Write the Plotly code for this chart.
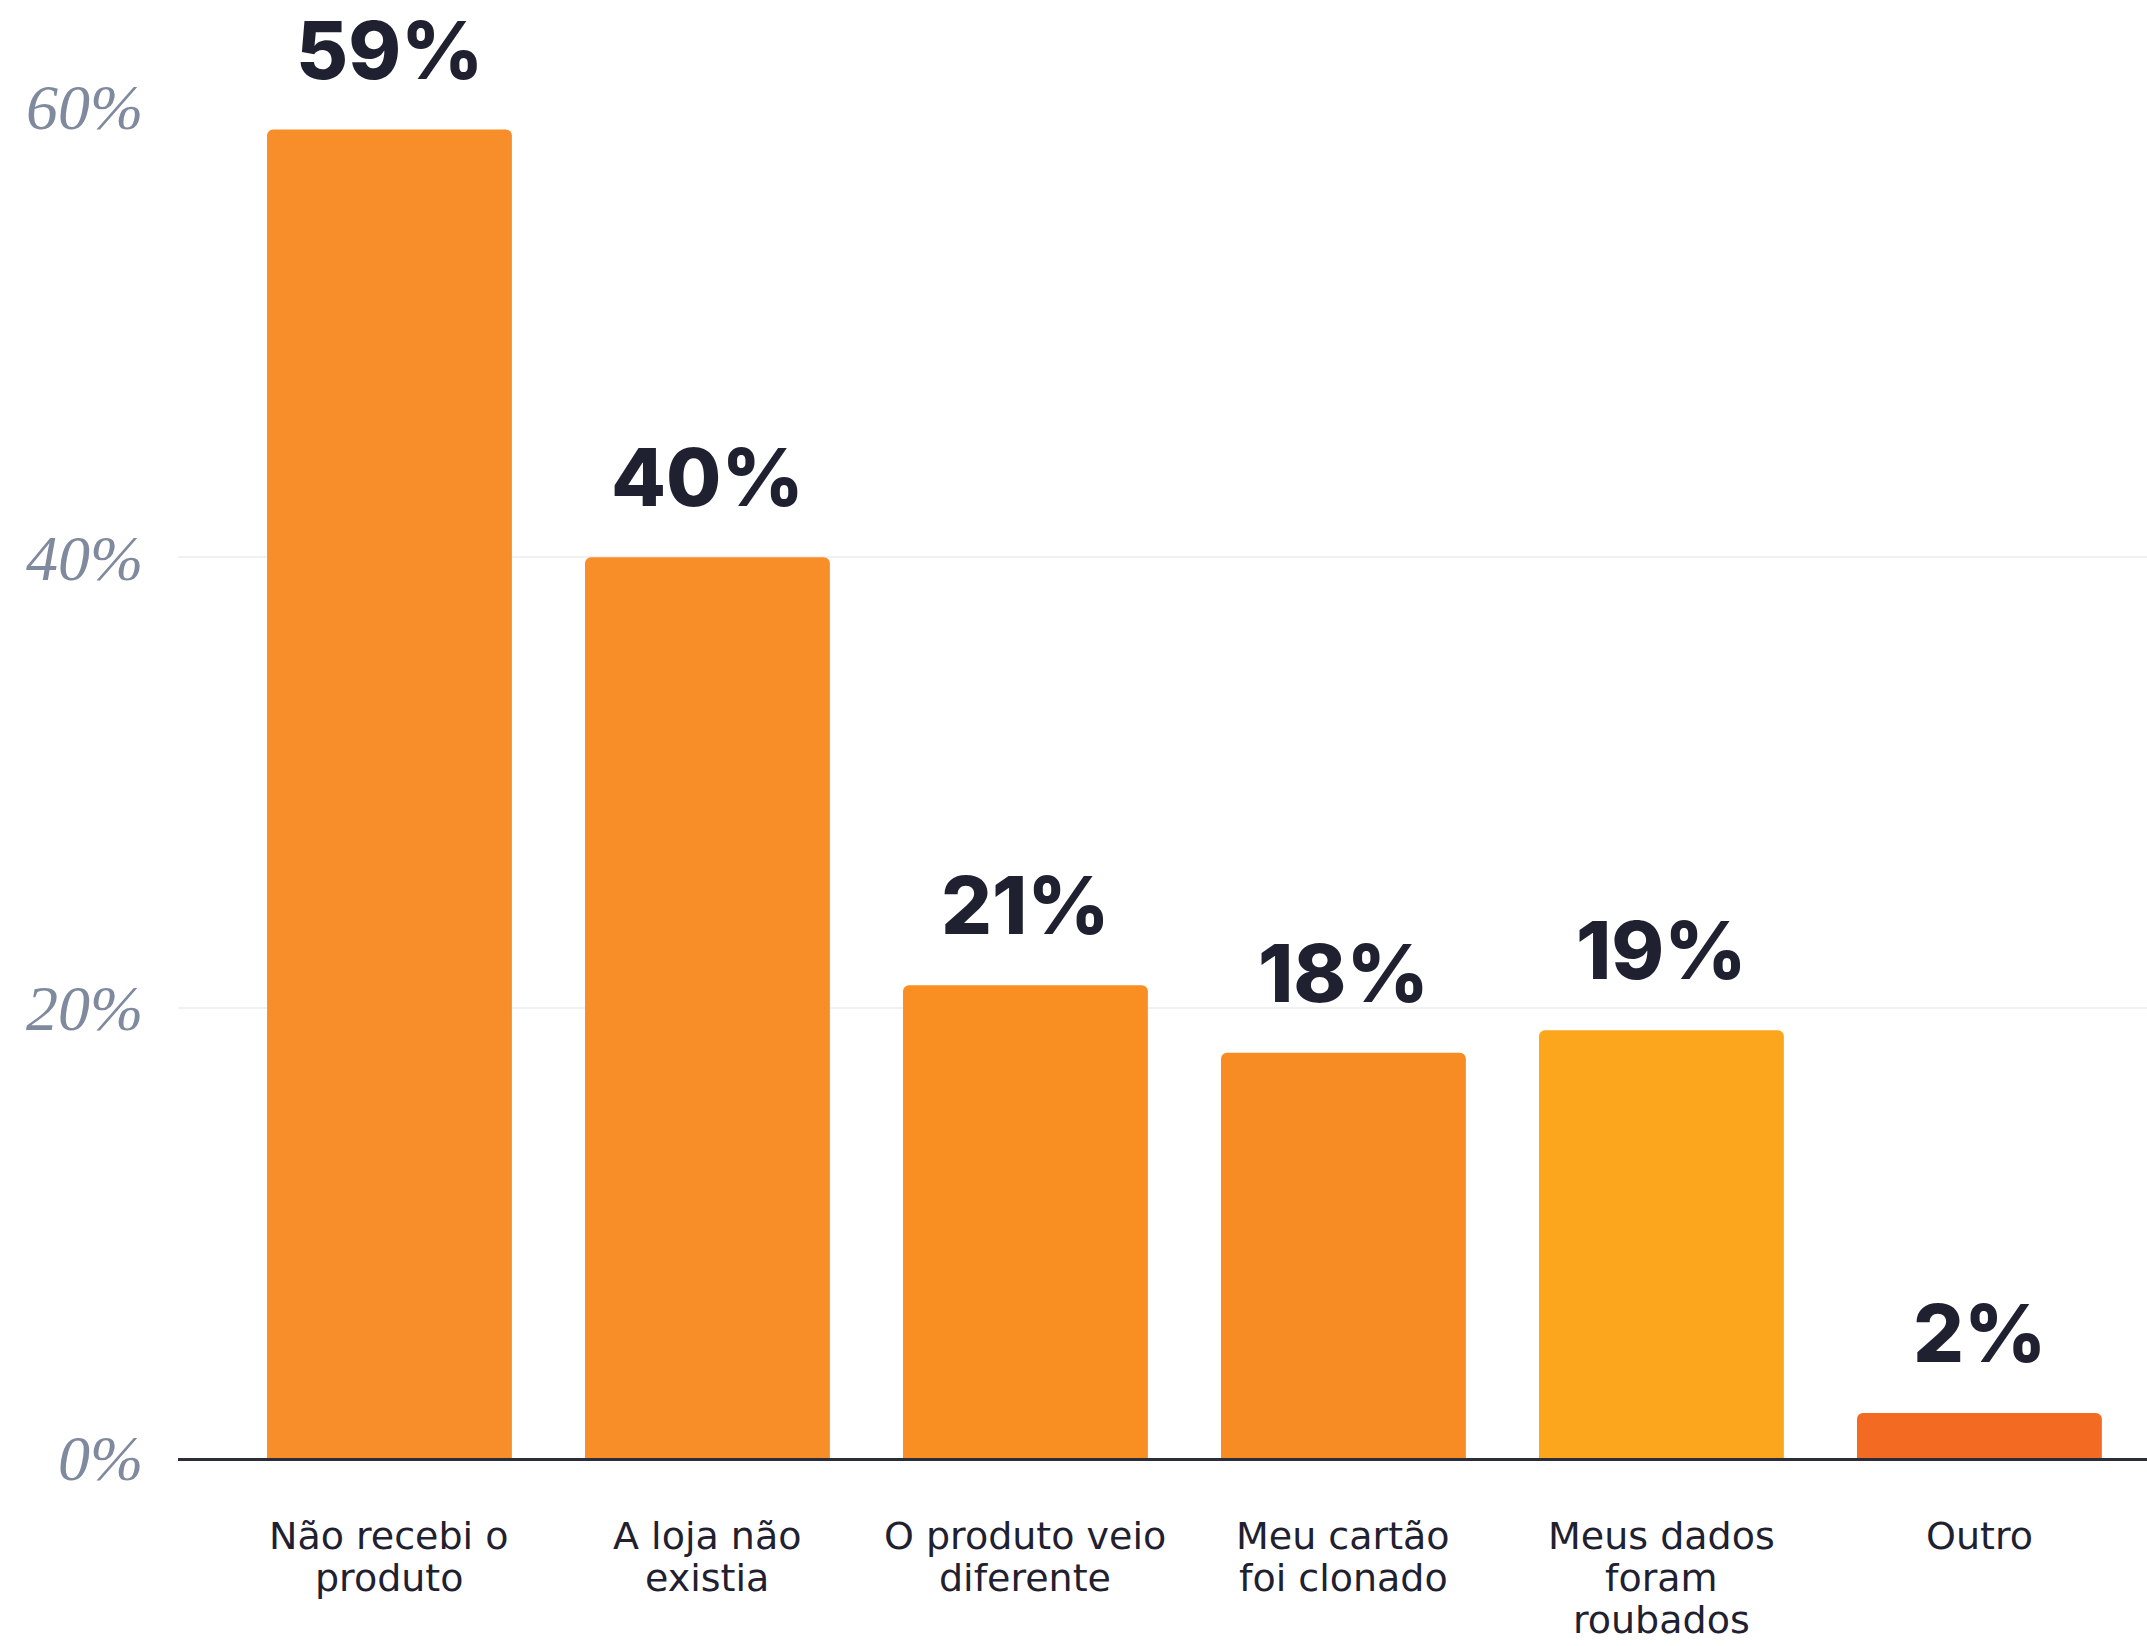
import plotly.graph_objects as go

# Survey: what happened in the online purchase scam
categories = [
    ["Não recebi o", "produto"],
    ["A loja não", "existia"],
    ["O produto veio", "diferente"],
    ["Meu cartão", "foi clonado"],
    ["Meus dados", "foram", "roubados"],
    ["Outro"],
]
values = [59, 40, 21, 18, 19, 2]
value_labels = ["59%", "40%", "21%", "18%", "19%", "2%"]
bar_colors = ["#F88E2A", "#F88E28", "#F98F22", "#F88C24", "#FBA61C", "#F36A22"]

y_ticks = [0, 20, 40, 60]
y_tick_labels = ["0%", "20%", "40%", "60%"]

positions = list(range(len(categories)))

fig = go.Figure()
fig.add_trace(go.Bar(
    x=positions,
    y=values,
    width=0.77,
    marker=dict(color=bar_colors, line=dict(width=0), cornerradius=6),
    hoverinfo="skip",
    cliponaxis=False,
))

# value labels above each bar
for xp, v, lab in zip(positions, values, value_labels):
    fig.add_annotation(
        x=xp, y=v, xref="x", yref="y",
        text=lab, showarrow=False,
        yanchor="bottom", yshift=30,
        font=dict(family="Inter", size=80, color="#1F2130", weight=800),
    )

# category names under the axis, one line at a time for tight leading
line_gap = 42
for xp, lines in zip(positions, categories):
    for i, line in enumerate(lines):
        fig.add_annotation(
            x=xp, y=0, xref="x", yref="paper",
            text=line, showarrow=False,
            yanchor="middle", yshift=-(78 + i * line_gap),
            font=dict(family="DejaVu Sans", size=38, color="#1F2130"),
        )

fig.update_layout(
    width=2147, height=1646,
    margin=dict(l=178, r=0, t=107, b=188),
    paper_bgcolor="white", plot_bgcolor="white",
    showlegend=False,
    xaxis=dict(
        range=[-0.665, 5.527],
        tickvals=positions, showticklabels=False, ticks="",
        showline=True, linecolor="#2B2D3B", linewidth=3,
        showgrid=False, zeroline=False, fixedrange=True, automargin=False,
    ),
    yaxis=dict(
        range=[0, 60],
        tickvals=y_ticks, ticktext=y_tick_labels,
        tickfont=dict(family="Liberation Serif", size=64, color="#808A9E", style="italic"),
        ticks="outside", ticklen=21, tickcolor="rgba(0,0,0,0)",
        showgrid=True, gridcolor="#F1F1F3", gridwidth=2,
        zeroline=False, showline=False, fixedrange=True, automargin=False,
    ),
)

fig.write_html("out.html")
